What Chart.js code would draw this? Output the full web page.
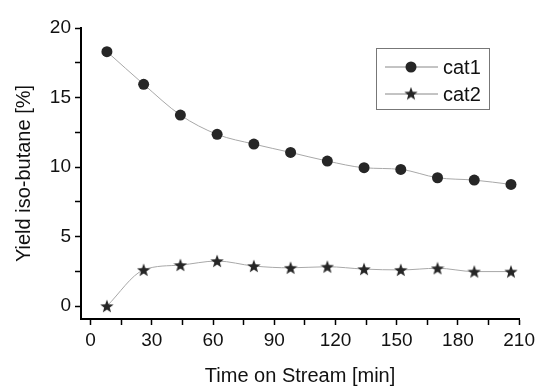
<!DOCTYPE html>
<html>
<head>
<meta charset="utf-8">
<script src="https://cdn.jsdelivr.net/npm/chart.js@4/dist/chart.umd.min.js"></script>
<style>
  html, body { margin: 0; padding: 0; background: #fff; }
  #wrap { width: 539px; height: 388px; }
</style>
</head>
<body>
<div id="wrap"><canvas id="chart"></canvas></div>
<script>
// time on stream, minutes
const timeMin = [8, 26, 44, 62, 80, 98, 116, 134, 152, 170, 188, 206];
// yield of iso-butane, %
const cat1 = [18.3, 15.95, 13.74, 12.35, 11.65, 11.05, 10.43, 9.95, 9.83, 9.23, 9.06, 8.75];
const cat2 = [0.0, 2.6, 2.95, 3.24, 2.88, 2.75, 2.83, 2.66, 2.6, 2.72, 2.48, 2.48];
const seriesNames = ['cat1', 'cat2'];
const xMajorTicks = [0, 30, 60, 90, 120, 150, 180, 210];
const yMajorTicks = [0, 5, 10, 15, 20];

const font = "'Liberation Sans', Arial, sans-serif";
const markColor = '#262626';
const lineColor = '#a8a8a8';

// filled five point star used as a point style
function makeStar(size) {
  const c = document.createElement('canvas');
  c.width = size; c.height = size;
  const g = c.getContext('2d');
  const cx = size / 2, cy = size / 2 + 0.6, R = size / 2, r = R * 0.42;
  g.beginPath();
  for (let i = 0; i < 10; i++) {
    const rad = i % 2 === 0 ? R : r;
    const a = -Math.PI / 2 + i * Math.PI / 5;
    const px = cx + rad * Math.cos(a), py = cy + rad * Math.sin(a);
    if (i === 0) g.moveTo(px, py); else g.lineTo(px, py);
  }
  g.closePath();
  g.fillStyle = markColor;
  g.fill();
  return c;
}
const star = makeStar(14);

function drawCircle(ctx, x, y) {
  ctx.beginPath();
  ctx.arc(x, y, 5.5, 0, Math.PI * 2);
  ctx.fillStyle = markColor;
  ctx.fill();
}

// legend box with line + marker samples
const legendBox = {
  id: 'legendBox',
  afterDraw(chart) {
    const ctx = chart.ctx;
    ctx.save();
    ctx.strokeStyle = '#777';
    ctx.lineWidth = 1;
    ctx.strokeRect(376.5, 48.5, 113, 61);
    const rows = [67, 94];
    rows.forEach((y, i) => {
      ctx.strokeStyle = '#888';
      ctx.beginPath();
      ctx.moveTo(385, y);
      ctx.lineTo(438, y);
      ctx.stroke();
      if (i === 0) drawCircle(ctx, 411, y);
      else ctx.drawImage(star, 411 - 7, y - 7.5, 14, 14);
      ctx.fillStyle = '#111';
      ctx.font = '20px ' + font;
      ctx.textBaseline = 'middle';
      ctx.fillText(seriesNames[i], 443, y + 1);
    });
    ctx.restore();
  }
};

new Chart(document.getElementById('chart'), {
  type: 'line',
  data: {
    datasets: [{
      label: seriesNames[0],
      data: timeMin.map((t, i) => ({ x: t, y: cat1[i] })),
      borderColor: lineColor,
      borderWidth: 1,
      pointStyle: 'circle',
      pointRadius: 5.5,
      pointBackgroundColor: markColor,
      pointBorderColor: markColor,
      pointBorderWidth: 0,
      cubicInterpolationMode: 'monotone'
    }, {
      label: seriesNames[1],
      data: timeMin.map((t, i) => ({ x: t, y: cat2[i] })),
      borderColor: lineColor,
      borderWidth: 1,
      pointStyle: star,
      cubicInterpolationMode: 'monotone'
    }]
  },
  options: {
    responsive: true,
    maintainAspectRatio: false,
    animation: false,
    layout: { padding: { top: 28, right: 19, left: 0, bottom: 0 } },
    plugins: { legend: { display: false }, tooltip: { enabled: false } },
    scales: {
      x: {
        type: 'linear',
        min: -4.7,
        max: 210,
        afterFit: s => { s.height = 69; },
        border: { display: true, color: '#000', width: 2 },
        grid: { drawOnChartArea: false, drawTicks: true, tickLength: 6, tickColor: '#000', tickWidth: 1.5 },
        ticks: {
          stepSize: 15,
          includeBounds: false,
          autoSkip: false,
          maxRotation: 0,
          minRotation: 0,
          padding: 4,
          color: '#111',
          font: { family: font, size: 19 },
          callback: v => xMajorTicks.includes(v) ? String(v) : ''
        },
        title: {
          display: true,
          text: 'Time on Stream [min]',
          color: '#111',
          font: { family: font, size: 20 },
          padding: { top: 4, bottom: 0 }
        }
      },
      y: {
        min: -0.93,
        max: 20,
        afterFit: s => { s.width = 81; },
        border: { display: true, color: '#000', width: 2 },
        grid: { drawOnChartArea: false, drawTicks: true, tickLength: 6, tickColor: '#000', tickWidth: 1.5 },
        ticks: {
          stepSize: 2.5,
          includeBounds: false,
          autoSkip: false,
          padding: 4,
          color: '#111',
          font: { family: font, size: 19 },
          callback: v => yMajorTicks.includes(v) ? String(v) : ''
        },
        title: {
          display: true,
          text: 'Yield iso-butane [%]',
          color: '#111',
          font: { family: font, size: 20 },
          padding: { top: 12, bottom: 0 }
        }
      }
    }
  },
  plugins: [legendBox]
});
</script>
</body>
</html>
